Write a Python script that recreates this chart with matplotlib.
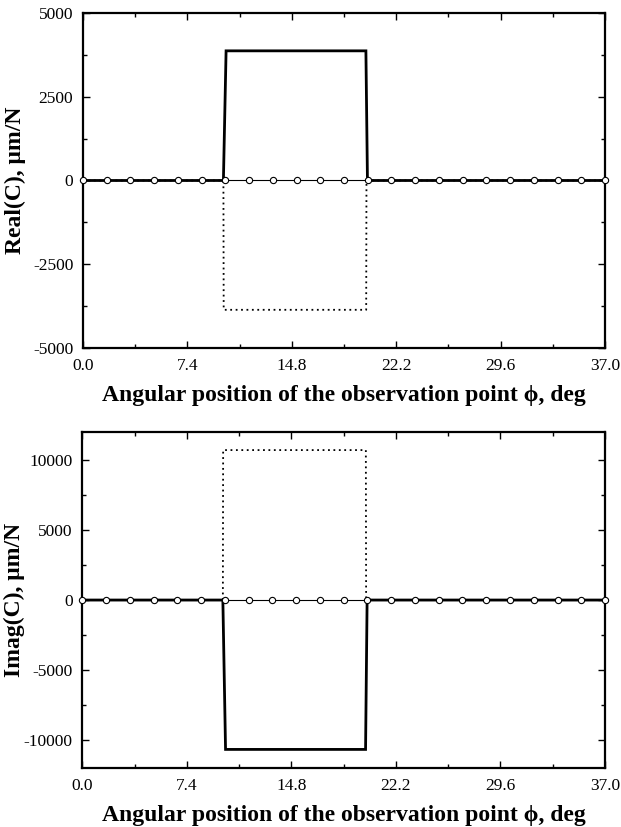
import matplotlib
matplotlib.use("Agg")
import matplotlib.pyplot as plt
from matplotlib.ticker import MultipleLocator, FixedLocator

plt.rcParams["font.family"] = ["Liberation Serif", "DejaVu Serif"]
plt.rcParams["axes.unicode_minus"] = False

# Angular positions of the nodal points (deg) and their compliance values
phi_nodes = [0.0, 1.68, 3.36, 5.05, 6.73, 8.41, 10.09, 11.77, 13.45, 15.14, 16.82,
             18.5, 20.18, 21.86, 23.55, 25.23, 26.91, 28.59, 30.27, 31.95, 33.64,
             35.32, 37.0]
real_nodes = [0, 0, 0, 0, 0, 0, 0, 0, 0, 0, 0, 0, 0, 0, 0, 0, 0, 0, 0, 0, 0, 0, 0]
imag_nodes = [0, 0, 0, 0, 0, 0, 0, 0, 0, 0, 0, 0, 0, 0, 0, 0, 0, 0, 0, 0, 0, 0, 0]

# Step-shaped compliance over the loaded sector
phi_solid = [0.0, 9.95, 10.14, 20.05, 20.16, 37.0]
real_solid = [0, 0, 3870, 3870, 0, 0]
imag_solid = [0, 0, -10670, -10670, 0, 0]

phi_dotted = [0.0, 9.95, 9.97, 20.07, 20.09, 37.0]
real_dotted = [0, 0, -3860, -3860, 0, 0]
imag_dotted = [0, 0, 10710, 10710, 0, 0]

x_ticks = [0.0, 7.4, 14.8, 22.2, 29.6, 37.0]
x_labels = ["0.0", "7.4", "14.8", "22.2", "29.6", "37.0"]

fig = plt.figure(figsize=(6.21, 8.27), dpi=100)
ax1 = fig.add_axes([0.1337, 0.5792, 0.8406, 0.4051])
ax2 = fig.add_axes([0.1325, 0.0713, 0.8418, 0.4063])

xlabel = "Angular position of the observation point \u03d5, deg"


def style(ax, ylim, major, minor, ylabel):
    ax.set_xlim(0, 37)
    ax.set_ylim(*ylim)
    ax.xaxis.set_major_locator(FixedLocator(x_ticks))
    ax.set_xticklabels(x_labels)
    ax.xaxis.set_minor_locator(MultipleLocator(3.7))
    ax.yaxis.set_major_locator(MultipleLocator(major))
    ax.yaxis.set_minor_locator(MultipleLocator(minor))
    ax.tick_params(which="both", direction="in", top=True, right=True,
                   labelsize=12.5, width=1.0)
    ax.tick_params(which="major", length=5, pad=7)
    ax.tick_params(which="minor", length=3)
    for s in ax.spines.values():
        s.set_linewidth(1.6)
    ax.set_xlabel(xlabel, fontsize=17, fontweight="bold", labelpad=8)
    ax.set_ylabel(ylabel, fontsize=17, fontweight="bold")
    ax.yaxis.set_label_coords(-0.11, 0.5)


def draw(ax, solid, dotted, nodes):
    ax.plot(phi_solid, solid, color="black", lw=2.0, solid_joinstyle="miter")
    ax.plot(phi_dotted, dotted, color="black", lw=1.3, linestyle=(0, (1, 2)))
    ax.plot(phi_nodes, nodes, color="black", lw=0.8, marker="o", markersize=4.5,
            markerfacecolor="white", markeredgecolor="black", markeredgewidth=0.8,
            clip_on=False, zorder=5)


draw(ax1, real_solid, real_dotted, real_nodes)
style(ax1, (-5000, 5000), 2500, 1250, "Real(C), \u03bcm/N")

draw(ax2, imag_solid, imag_dotted, imag_nodes)
style(ax2, (-12000, 12000), 5000, 2500, "Imag(C), \u03bcm/N")

fig.savefig("out.png", dpi=100)
